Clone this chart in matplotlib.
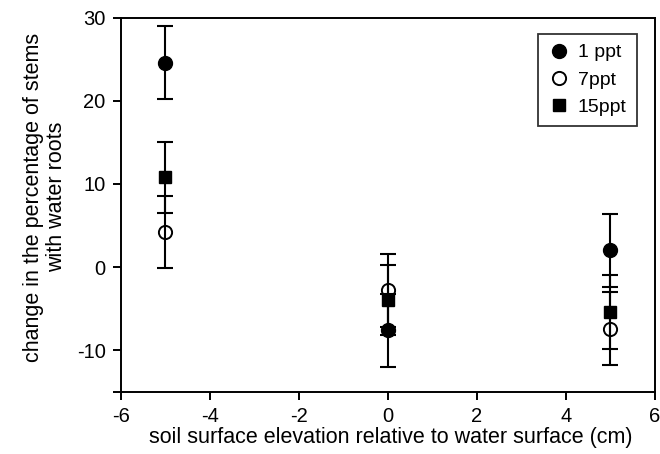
import matplotlib
matplotlib.use("Agg")
import matplotlib.pyplot as plt

plt.rcParams['font.family'] = ['Liberation Sans', 'DejaVu Sans']
plt.rcParams['axes.unicode_minus'] = False

elev = [-5, 0, 5]
s1_mean = [24.6, -7.6, 2.0]
s1_err = [4.4, 4.4, 4.4]
s7_mean = [4.2, -2.8, -7.4]
s7_err = [4.3, 4.4, 4.4]
s15_mean = [10.8, -4.0, -5.4]
s15_err = [4.3, 4.2, 4.4]
labels = ['1 ppt', '7ppt', '15ppt']

fig = plt.figure(figsize=(6.6, 4.54), dpi=100)
ax = fig.add_axes([0.183, 0.137, 0.809, 0.824])

ekw = dict(fmt='none', ecolor='black', elinewidth=1.5, capsize=6, capthick=1.5, zorder=2)
for m, e in [(s1_mean, s1_err), (s7_mean, s7_err), (s15_mean, s15_err)]:
    ax.errorbar(elev, m, yerr=e, **ekw)

h1, = ax.plot(elev, s1_mean, linestyle='none', marker='o', markersize=10, markerfacecolor='black',
              markeredgecolor='black', zorder=3, label=labels[0])
h2, = ax.plot(elev, s7_mean, linestyle='none', marker='o', markersize=9.5, markerfacecolor='none',
              markeredgecolor='black', markeredgewidth=1.4, zorder=3, label=labels[1])
h3, = ax.plot(elev, s15_mean, linestyle='none', marker='s', markersize=9, markerfacecolor='black',
              markeredgecolor='black', zorder=3, label=labels[2])

ax.set_xlim(-6, 6)
ax.set_ylim(-15, 30)
ax.set_xticks([-6, -4, -2, 0, 2, 4, 6])
ax.set_yticks([-15, -10, 0, 10, 20, 30])
ax.set_yticklabels(['', '-10', '0', '10', '20', '30'])
ax.tick_params(direction='out', length=6, width=1.4, labelsize=14.5, colors='black', pad=5)
for s in ax.spines.values():
    s.set_linewidth(1.4)
ax.set_xlabel('soil surface elevation relative to water surface (cm)', fontsize=15.5)
ax.set_ylabel('change in the percentage of stems\nwith water roots', fontsize=15.5, linespacing=1.1)
ax.xaxis.set_label_coords(0.505, -0.093)
ax.yaxis.set_label_coords(-0.101, 0.52)

leg = ax.legend([h1, h2, h3], labels, loc='upper right', bbox_to_anchor=(0.966, 0.956), borderaxespad=0,
                frameon=True, fancybox=False, edgecolor='black', fontsize=14, handlelength=1.2,
                handletextpad=0.35, borderpad=0.5, labelspacing=0.5)
leg.get_frame().set_linewidth(1.3)

fig.savefig('out.png', dpi=100)
